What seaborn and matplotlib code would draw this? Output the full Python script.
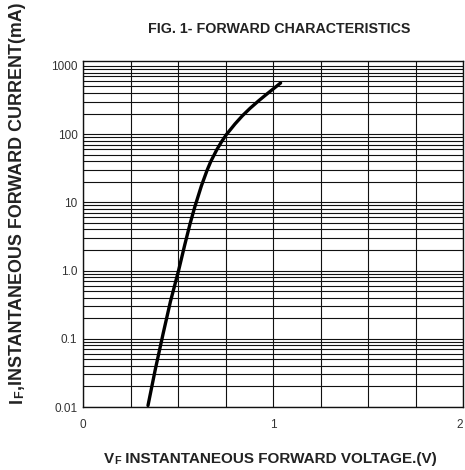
import numpy as np
import pandas as pd
import matplotlib
matplotlib.use("Agg")
import matplotlib.pyplot as plt
import seaborn as sns
from matplotlib.ticker import FixedLocator, LogLocator, NullFormatter, FixedFormatter

# ---- data ----
voltage = [0.342, 0.38, 0.422, 0.46, 0.503, 0.535, 0.563, 0.588, 0.623, 0.653,
           0.673, 0.704, 0.73, 0.754, 0.80, 0.839, 0.88, 0.925, 0.96, 1.0, 1.04]
current = [0.0105, 0.035, 0.12, 0.35, 1.0, 2.35, 4.8, 8.5, 17.4, 29.5,
           40, 59, 78, 98, 141, 186, 240, 309, 372, 457, 562]

y_ticks = [0.01, 0.1, 1, 10, 100, 1000]
y_tick_labels = ["0.01", "0.1", "1.0", "10", "100", "1000"]
x_ticks = [0, 1, 2]
x_tick_labels = ["0", "1", "2"]

title = "FIG. 1- FORWARD CHARACTERISTICS"

sns.set_theme(style="white")
plt.rcParams['font.family'] = ['Liberation Sans', 'DejaVu Sans']

W, H = 465, 470
fig = plt.figure(figsize=(W / 100, H / 100), dpi=100)
ax = fig.add_axes([83 / W, 1 - 407 / H, (463 - 83) / W, (407 - 61) / H])

df = pd.DataFrame({"V": voltage, "I": current})
sns.lineplot(data=df, x="V", y="I", ax=ax, color="black", linewidth=2.4,
             sort=False, estimator=None)

ax.set_yscale("log")
ax.set_xlim(0, 2)
ax.set_ylim(0.01, 1180)

ax.xaxis.set_major_locator(FixedLocator(x_ticks))
ax.xaxis.set_major_formatter(FixedFormatter(x_tick_labels))
ax.xaxis.set_minor_locator(FixedLocator(np.arange(0, 2.01, 0.25)))
ax.yaxis.set_major_locator(FixedLocator(y_ticks))
ax.yaxis.set_major_formatter(FixedFormatter(y_tick_labels))
ax.yaxis.set_minor_locator(LogLocator(base=10, subs=np.arange(2, 10), numticks=20))
ax.yaxis.set_minor_formatter(NullFormatter())

ax.grid(True, which="both", axis="both", color="#111111", linewidth=0.8)
ax.tick_params(axis="both", which="both", length=0, labelsize=8.5, labelcolor="#333333")
ax.tick_params(axis="x", pad=9)
ax.tick_params(axis="y", pad=4)
for s in ax.spines.values():
    s.set_color("#111111")
    s.set_linewidth(1.0)
ax.set_xlabel("")
ax.set_ylabel("")
ax.get_xticklabels()[-1].set_horizontalalignment("right")

fig.text(279 / W, 1 - 29 / H, title, ha="center", va="center",
         fontsize=10.3, fontweight="bold", color="#222222")

# x label with small F
big = 11
small = 7.8
t1 = fig.text(104 / W, 1 - 463 / H, "V", fontsize=big, fontweight="bold",
              color="#222222", ha="left", va="baseline")
t2 = ax.annotate("F", xy=(1, 0), xycoords=t1, xytext=(0.3, 0), textcoords="offset points",
                 fontsize=small, fontweight="bold", color="#222222",
                 ha="left", va="bottom", annotation_clip=False)
t3 = ax.annotate(" INSTANTANEOUS FORWARD VOLTAGE.(V)", xy=(1, 0), xycoords=t2,
                 fontsize=big, fontweight="bold", color="#222222",
                 ha="left", va="bottom", annotation_clip=False)

# y label with small F
ybig = 12.9
ysmall = 9.0
u1 = fig.text(26 / W, 1 - 403 / H, "I", fontsize=ybig, fontweight="bold",
              color="#222222", ha="right", va="bottom", rotation=90)
u2 = ax.annotate("F", xy=(1, 1), xycoords=u1, xytext=(0, 0.3), textcoords="offset points",
                 fontsize=ysmall, fontweight="bold", color="#222222",
                 ha="right", va="bottom", rotation=90, annotation_clip=False)
u3 = ax.annotate(",INSTANTANEOUS FORWARD CURRENT(mA)", xy=(1, 1), xycoords=u2,
                 fontsize=ybig, fontweight="bold", color="#222222",
                 ha="right", va="bottom", rotation=90, annotation_clip=False)

fig.savefig("out.png", dpi=100)
